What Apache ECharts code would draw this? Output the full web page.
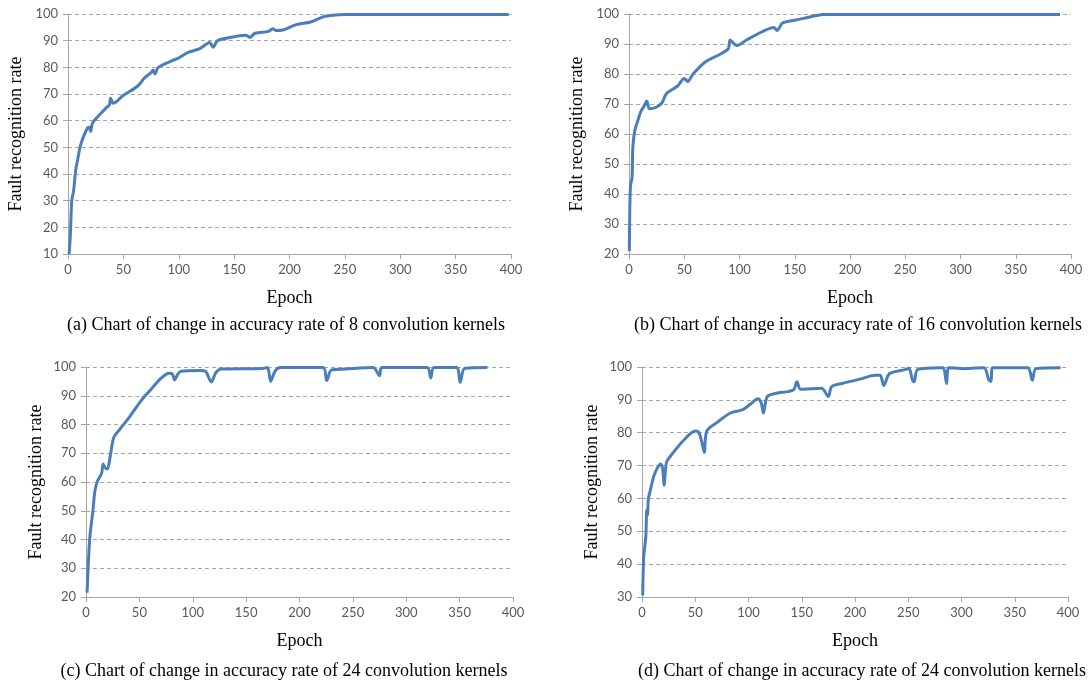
<!DOCTYPE html>
<html>
<head>
<meta charset="utf-8">
<script src="https://cdn.jsdelivr.net/npm/echarts@6/dist/echarts.min.js"></script>
<style>
  html, body { margin: 0; padding: 0; background: #ffffff; }
  #chart { width: 1091px; height: 684px; }
</style>
</head>
<body>
<div id="chart"></div>
<script>
// (a) 8 kernels
const epochsA = [1, 2, 3.4, 5, 7, 9, 11, 14, 17.5, 19, 20.5, 22, 28, 35, 37.5, 38.4, 41, 50, 63, 69, 75, 77, 78.5, 81.5, 94, 100, 108, 119, 128, 131, 135, 144, 150, 161, 164, 169, 181, 185, 188, 194, 206, 219, 231, 241, 250, 300, 350, 398]
const valuesA = [10, 16, 30, 33.5, 41.6, 46, 50.3, 54, 57.2, 57.5, 56, 59, 62, 65, 66, 68.4, 66.5, 69.5, 73, 76, 78, 79, 77.5, 80, 82.5, 83.5, 85.5, 87, 89.3, 87.5, 90, 91, 91.5, 92, 91.2, 92.8, 93.5, 94.5, 93.8, 94, 96, 97, 99, 99.6, 99.8, 99.8, 99.8, 99.8]

// (b) 16 kernels
const epochsB = [0.3, 0.6, 1.3, 2.8, 3.5, 5.4, 7.6, 10.7, 14, 16, 18.6, 25, 30, 34, 44, 50, 53, 58, 69, 82, 90, 91.5, 97.5, 107, 120, 131, 134, 139, 151, 170, 176, 250, 320, 390]
const valuesB = [21, 31.4, 42.5, 45.8, 55.8, 61.4, 64, 67.5, 69.5, 71, 68.4, 69, 70.5, 73.5, 76, 78.5, 77.5, 80, 84, 86.5, 88.5, 91.3, 89.5, 91.5, 94, 95.5, 94.5, 97, 98, 99.5, 99.8, 99.8, 99.8, 99.8]

// (c) 24 kernels
const epochsC = [1, 2.6, 3.9, 6.5, 8.4, 11, 14.6, 16, 17.8, 20, 22.7, 26, 31, 40.5, 52, 61.6, 70, 78, 81, 83, 86, 89, 107, 112, 117.4, 121.6, 126.5, 165, 170, 173, 177, 182, 222, 225.5, 230, 243, 269, 275, 277, 319.5, 323, 326, 347, 350.5, 355, 376]
const valuesC = [21.5, 35, 42, 50, 57, 60.5, 63, 66.3, 65, 64.5, 69, 75.5, 78, 82.5, 88.5, 92.5, 96, 97.8, 97.5, 95.5, 97.5, 98.5, 98.8, 98.5, 94.8, 98, 99.3, 99.5, 99.8, 95, 98.5, 99.8, 99.8, 95.3, 99, 99.3, 99.8, 97, 99.8, 99.8, 96.2, 99.8, 99.8, 94.7, 99.6, 99.8]

// (d) 24 kernels
const epochsD = [0.7, 1.6, 3.6, 4.5, 5.2, 6, 7.5, 10.8, 14, 17.4, 19.4, 20.7, 23, 27, 40, 50, 53.5, 57, 58.5, 60.8, 70, 83, 94.6, 101, 109, 112, 114, 117.6, 126, 142, 145.5, 149, 168.5, 175, 178, 188, 204.6, 219, 223.6, 227, 232.5, 247, 250.6, 254, 255.5, 259, 280, 283, 286, 288, 303, 321, 325.5, 327.7, 329, 362, 366.5, 370, 393]
const valuesD = [30.5, 42, 48.5, 56.5, 55, 60, 62, 66.5, 69, 70.5, 69, 64, 71, 73, 78, 80.5, 80, 76, 74, 80.5, 83, 86, 87, 88.5, 90.3, 89, 86, 91, 92, 93, 95.5, 93.2, 93.5, 91, 94, 95, 96.3, 97.5, 97.5, 94.4, 98, 99.2, 99.6, 96, 95.5, 99.3, 99.8, 99.8, 95, 99.8, 99.5, 99.8, 96.2, 95.6, 99.8, 99.8, 96, 99.5, 99.8]

const xTicks = [0, 50, 100, 150, 200, 250, 300, 350, 400]

const captions = [
  '(a) Chart of change in accuracy rate of 8 convolution kernels',
  '(b) Chart of change in accuracy rate of 16 convolution kernels',
  '(c) Chart of change in accuracy rate of 24 convolution kernels',
  '(d) Chart of change in accuracy rate of 24 convolution kernels',
]

const panels = [
  { epochs: epochsA, values: valuesA, yMin: 10, grid: { left: 68, right: 580, top: 14, bottom: 430 }, nameGap: 43, cap: [286, 325] },
  { epochs: epochsB, values: valuesB, yMin: 20, grid: { left: 629, right: 20, top: 14, bottom: 430 }, nameGap: 43, cap: [858, 325] },
  { epochs: epochsC, values: valuesC, yMin: 20, grid: { left: 86, right: 578, top: 367, bottom: 87 }, nameGap: 41, cap: [284, 671] },
  { epochs: epochsD, values: valuesD, yMin: 30, grid: { left: 642, right: 23, top: 367, bottom: 87 }, nameGap: 41, cap: [862, 671] },
]

const axisGray = '#a6a6a6'
const labelGray = '#595959'
const lineBlue = '#4a7ebb'
const serif = '"Liberation Serif", "Times New Roman", serif'

const chart = echarts.init(document.getElementById('chart'), null, { renderer: 'canvas' })

const option = {
  animation: false,
  backgroundColor: '#ffffff',
  grid: panels.map((p) => ({ ...p.grid, containLabel: false })),
  xAxis: panels.map((p, i) => ({
    type: 'value',
    gridIndex: i,
    min: 0,
    max: 400,
    interval: 50,
    name: 'Epoch',
    nameLocation: 'middle',
    nameGap: 35,
    nameTextStyle: { color: '#000', fontFamily: serif, fontSize: 18 },
    axisLine: { show: true, lineStyle: { color: axisGray, width: 1 } },
    axisTick: { show: true, length: 5, lineStyle: { color: axisGray } },
    axisLabel: { color: labelGray, fontFamily: 'Lato', fontSize: 13, margin: 9,
      formatter: (v) => (xTicks.includes(v) ? String(v) : '') },
    splitLine: { show: false },
  })),
  yAxis: panels.map((p, i) => ({
    type: 'value',
    gridIndex: i,
    min: p.yMin,
    max: 100,
    interval: 10,
    name: 'Fault recognition rate',
    nameLocation: 'middle',
    nameRotate: 90,
    nameGap: p.nameGap,
    nameTextStyle: { color: '#000', fontFamily: serif, fontSize: 18 },
    axisLine: { show: true, lineStyle: { color: axisGray, width: 1 } },
    axisTick: { show: true, length: 5, lineStyle: { color: axisGray } },
    axisLabel: { color: labelGray, fontFamily: 'Lato', fontSize: 13, margin: 10 },
    splitLine: { show: true, lineStyle: { color: axisGray, type: [4, 3], width: 1 } },
  })),
  series: panels.map((p, i) => ({
    type: 'line',
    xAxisIndex: i,
    yAxisIndex: i,
    data: p.epochs.map((e, k) => [e, p.values[k]]),
    smooth: 0.3,
    showSymbol: false,
    lineStyle: { color: lineBlue, width: 3 },
    z: 3,
  })),
  graphic: panels.map((p, i) => ({
    type: 'text',
    x: p.cap[0],
    y: p.cap[1],
    style: {
      text: captions[i],
      fill: '#000',
      font: '18px ' + serif,
      textAlign: 'center',
      textVerticalAlign: 'middle',
    },
  })),
}

chart.setOption(option)
</script>
</body>
</html>
